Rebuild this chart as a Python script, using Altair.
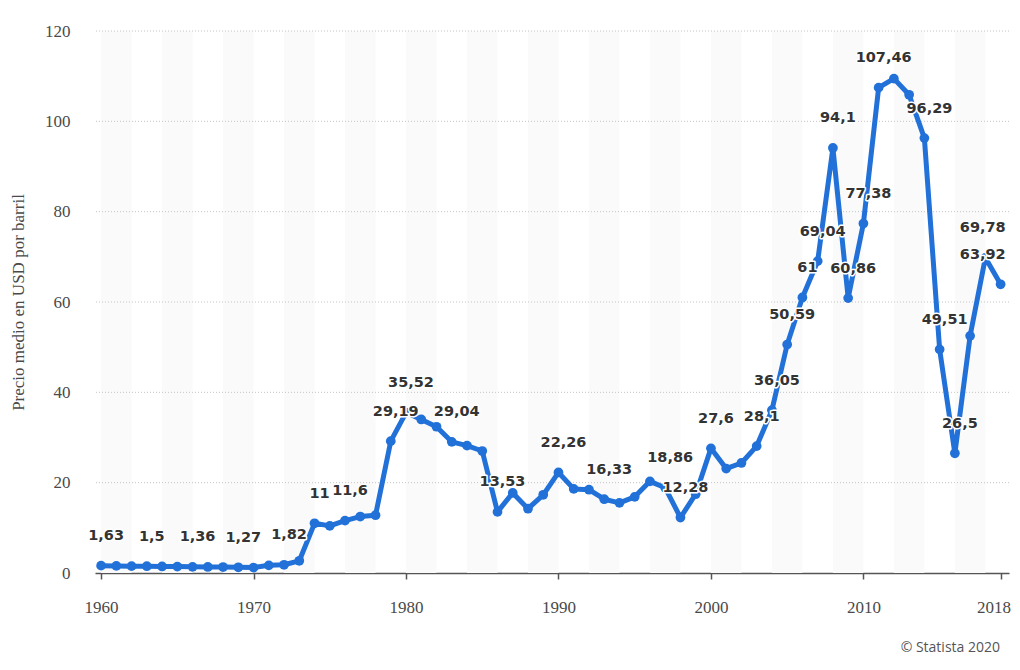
import altair as alt
import pandas as pd

# ---- data ----
years = list(range(1960, 2020))
prices = [1.63, 1.57, 1.52, 1.50, 1.45, 1.42, 1.36, 1.33, 1.32, 1.27,
          1.21, 1.70, 1.82, 2.70, 11.00, 10.43, 11.60, 12.50, 12.79, 29.19,
          35.52, 34.00, 32.38, 29.04, 28.20, 27.01, 13.53, 17.73, 14.24, 17.31,
          22.26, 18.62, 18.44, 16.33, 15.53, 16.86, 20.29, 18.86, 12.28, 17.44,
          27.60, 23.12, 24.36, 28.10, 36.05, 50.59, 61.00, 69.04, 94.10, 60.86,
          77.38, 107.46, 109.45, 105.87, 96.29, 49.51, 26.50, 52.51, 69.78, 63.92]
labeled_years = [1960, 1963, 1966, 1969, 1972, 1974, 1976, 1979, 1980, 1983,
                 1986, 1990, 1993, 1997, 1998, 2000, 2003, 2004, 2005, 2006,
                 2007, 2008, 2009, 2010, 2011, 2014, 2015, 2016, 2018, 2019]
x_tick_values = [1960, 1970, 1980, 1990, 2000, 2010, 2019]
x_tick_labels = ["1960", "1970", "1980", "1990", "2000", "2010", "2018"]
y_tick_values = [0, 20, 40, 60, 80, 100, 120]
y_title = "Precio medio en USD por barril"
source_note = "© Statista 2020"

# ---- tables ----
df = pd.DataFrame({
    "year": years,
    "price": prices,
    "label": [f"{p:g}".replace(".", ",") if y in labeled_years else ""
              for y, p in zip(years, prices)],
})
band_starts = years[0::4]
bands = pd.DataFrame({"start": band_starts, "end": [s + 2 for s in band_starts]})
grid = pd.DataFrame({"v": y_tick_values[1:]})

W, H = 914, 542
BLUE = "#2271d8"
TXT = "#333333"
AX = "#4a4a4a"

xscale = alt.Scale(domain=[1959.6, 2019.55], nice=False, zero=False)
yscale = alt.Scale(domain=[0, 120], nice=False)

vals = "[" + ",".join(str(v) for v in x_tick_values) + "]"
labs = "[" + ",".join(f"'{l}'" for l in x_tick_labels) + "]"
label_expr = f"{labs}[indexof({vals}, datum.value)]"
last_tick = x_tick_values[-1]

x_axis = alt.Axis(values=x_tick_values, labelExpr=label_expr, title=None,
                  grid=False, domainColor="#555555", domainWidth=1.5,
                  tickColor="#555555", tickWidth=1.5, tickSize=6,
                  labelFont="Liberation Serif", labelFontSize=17,
                  labelColor=AX, labelPadding=20,
                  labelOffset={"condition": {"test": f"datum.value == {last_tick}",
                                             "value": -7},
                               "value": 0})
y_axis = alt.Axis(values=y_tick_values, title=y_title, grid=False,
                  domain=False, ticks=False, tickSize=0,
                  labelFont="Liberation Serif", labelFontSize=17,
                  labelColor=AX, labelPadding=25,
                  titleFont="Liberation Serif", titleFontSize=17,
                  titleFontWeight="normal", titleColor=AX, titlePadding=17)

band_layer = alt.Chart(bands).mark_rect(color="#fafafa").encode(
    x=alt.X("start:Q", scale=xscale, axis=x_axis),
    x2="end:Q",
    y=alt.Y(datum=0, type="quantitative", scale=yscale, axis=y_axis),
    y2=alt.Y2(datum=120),
)

grid_layer = alt.Chart(grid).mark_rule(color="#c4c4c4", strokeWidth=1,
                                       strokeDash=[1, 2]).encode(
    y=alt.Y("v:Q", scale=yscale),
)

line_layer = alt.Chart(df).mark_line(color=BLUE, strokeWidth=5,
                                     strokeJoin="round").encode(
    x=alt.X("year:Q", scale=xscale),
    y=alt.Y("price:Q", scale=yscale),
)

point_layer = alt.Chart(df).mark_circle(color=BLUE, size=95, opacity=1).encode(
    x=alt.X("year:Q", scale=xscale),
    y=alt.Y("price:Q", scale=yscale),
)

lab_base = alt.Chart(df).transform_filter("datum.label != ''").transform_calculate(
    lx="min(datum.year, 2017.5)"
)
halo_layer = lab_base.mark_text(font="DejaVu Sans", fontWeight="bold",
                                fontSize=14.5, dx=5, dy=-29.5, baseline="middle",
                                stroke="white", strokeWidth=3, strokeJoin="round",
                                fill="white").encode(
    x=alt.X("lx:Q", scale=xscale),
    y=alt.Y("price:Q", scale=yscale),
    text="label:N",
)
text_layer = lab_base.mark_text(font="DejaVu Sans", fontWeight="bold",
                                fontSize=14.5, dx=5, dy=-29.5, baseline="middle",
                                color=TXT).encode(
    x=alt.X("lx:Q", scale=xscale),
    y=alt.Y("price:Q", scale=yscale),
    text="label:N",
)

note = alt.Chart(pd.DataFrame({"t": [source_note]})).mark_text(
    font="Open Sans", fontSize=14, color="#555555", align="right",
    baseline="alphabetic").encode(
    x=alt.value(905), y=alt.value(621), text="t:N")

chart = alt.layer(band_layer, grid_layer, line_layer, point_layer,
                  halo_layer, text_layer, note).properties(
    width=W, height=H,
    autosize=alt.AutoSizeParams(type="none"),
    padding={"left": 87, "top": 23, "right": 3, "bottom": 84},
).configure_view(stroke=None)

chart.save("out.html", embed_options={"renderer": "svg", "actions": False})
